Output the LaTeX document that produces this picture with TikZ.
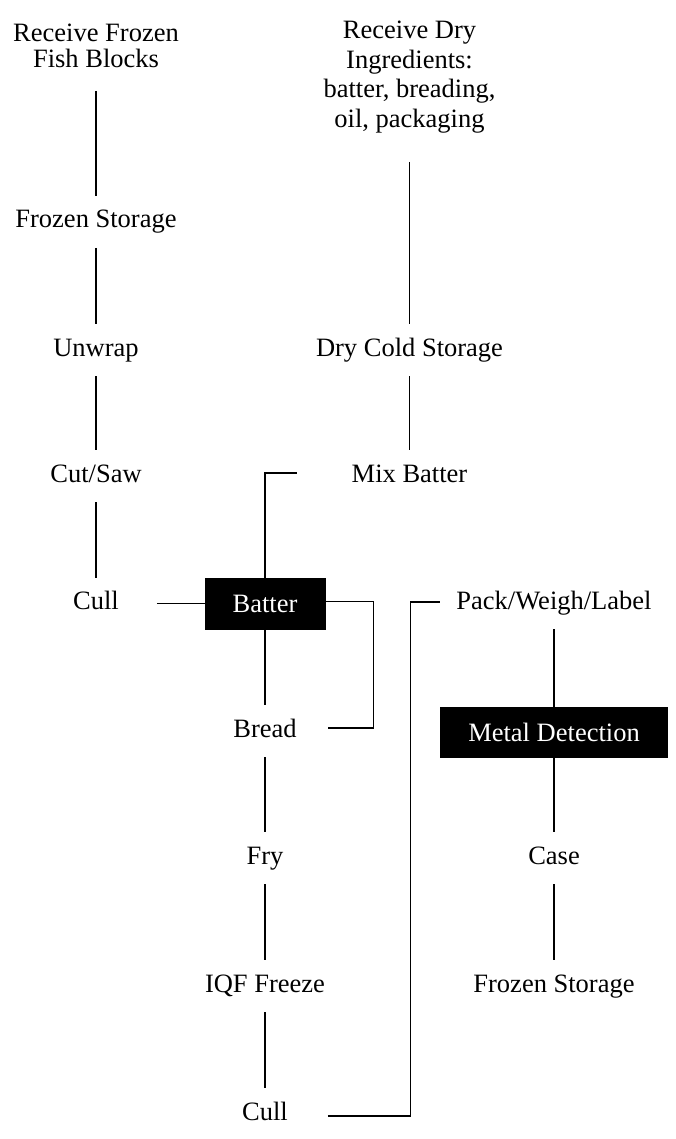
\documentclass[tikz,border=0pt]{standalone}
\usepackage{fontspec}
\setmainfont{Liberation Serif}
\begin{document}
\begin{tikzpicture}[x=1pt,y=-1pt,
  lbl/.style={inner sep=0pt, outer xsep=0pt, outer ysep=14pt, text height=18pt, text depth=6pt, font=\fontsize{26.5}{27}\selectfont},
  multione/.style={inner sep=0pt, outer sep=0pt, align=center, font=\fontsize{26.5}{26}\selectfont},
  multitwo/.style={inner sep=0pt, outer sep=0pt, align=center, font=\fontsize{26.5}{29.5}\selectfont},
  blackbox/.style={fill=black, text=white, inner sep=0pt, outer sep=0pt, font=\fontsize{26.5}{27}\selectfont},
  conn/.style={line width=1.9pt}]
\useasboundingbox[fill=white] (0,0) rectangle (675,1139);

% left column
\node[multione, anchor=north] (rff) at (96,24) {Receive Frozen\\Fish Blocks};
\node[lbl] (fs1) at (96,222) {Frozen Storage};
\node[lbl] (unw) at (96,350) {Unwrap};
\node[lbl] (cut) at (96,476) {Cut/Saw};
\node[lbl] (cull1) at (96,603.5) {Cull};

% dry ingredients column
\node[multitwo, anchor=north] (rdi) at (409.5,21) {Receive Dry\\Ingredients:\\batter, breading,\\oil, packaging};
\node[lbl] (dcs) at (409.5,350) {Dry Cold Storage};
\node[lbl] (mix) at (409.5,476) {Mix Batter};

% middle column
\node[blackbox, minimum width=121pt, minimum height=52pt] (batter) at (265,603.5) {Batter};
\node[lbl] (bread) at (265,731) {Bread};
\node[lbl] (fry) at (265,858) {Fry};
\node[lbl] (iqf) at (265,986) {IQF Freeze};
\node[lbl] (cull2) at (265,1114) {Cull};

% right column
\node[lbl] (pack) at (554,603) {Pack/Weigh/Label};
\node[blackbox, minimum width=228pt, minimum height=51pt] (metal) at (554,732.5) {Metal Detection};
\node[lbl] (case) at (554,858) {Case};
\node[lbl] (fs2) at (554,986) {Frozen Storage};

% connectors
\draw[conn] ([yshift=-23pt]rff.south) -- (fs1.north);
\draw[conn] (fs1.south) -- (unw.north);
\draw[conn] (unw.south) -- (cut.north);
\draw[conn] (cut.south) -- (cull1.north);
\draw[conn] ([yshift=-29pt]rdi.south) -- (dcs.north);
\draw[conn] (dcs.south) -- (mix.north);
\draw[conn] ([xshift=-55pt,yshift=3pt]mix.west) -| (batter.north);
\draw[conn] ([xshift=38pt]cull1.east) -- (batter.west);
\draw[conn] (batter.south) -- (bread.north);
\draw[conn] ([yshift=2pt]batter.east) -- ++(48,0) |- ([xshift=31pt,yshift=3pt]bread.east);
\draw[conn] (bread.south) -- (fry.north);
\draw[conn] (fry.south) -- (iqf.north);
\draw[conn] (iqf.south) -- (cull2.north);
\draw[conn] ([xshift=40pt,yshift=-2pt]cull2.east) -| ([xshift=-46pt,yshift=1pt]pack.west) -- ([xshift=-16pt,yshift=1pt]pack.west);
\draw[conn] (pack.south) -- (metal.north);
\draw[conn] (metal.south) -- (case.north);
\draw[conn] (case.south) -- (fs2.north);
\end{tikzpicture}
\end{document}
